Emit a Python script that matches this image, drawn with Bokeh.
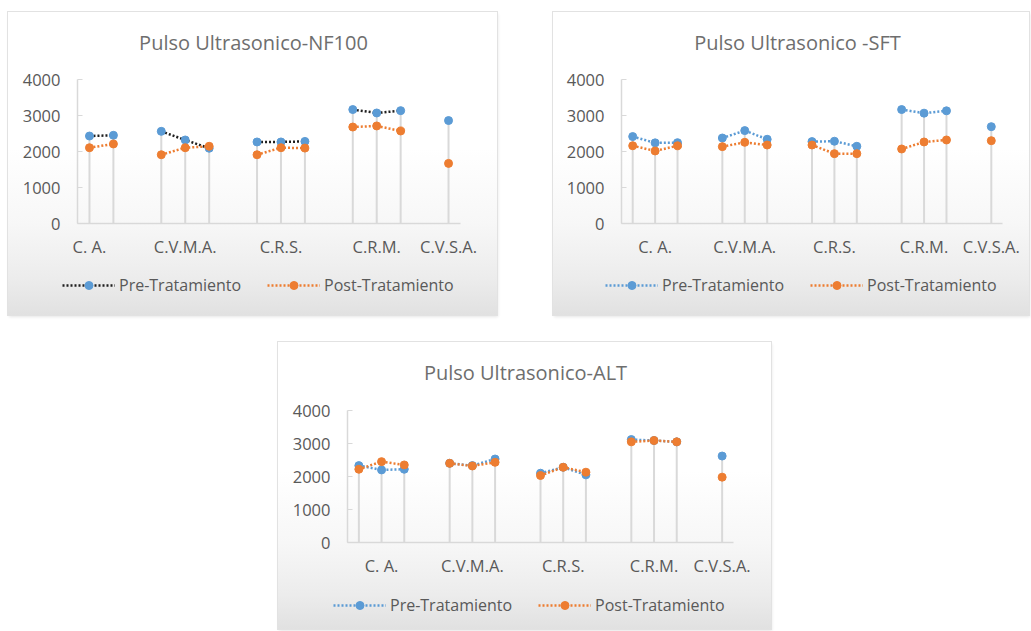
import math
from bokeh.plotting import figure
from bokeh.models import Range1d, FixedTicker, Legend, LegendItem, Spacer, Label, Plot
from bokeh.layouts import row, column
from bokeh.embed import file_html
from bokeh.resources import INLINE

# ---------------- data ----------------
categories = ["C. A.", "C.V.M.A.", "C.R.S.", "C.R.M.", "C.V.S.A."]
series_names = ["Pre-Tratamiento", "Post-Tratamiento"]
y_ticks = [0, 1000, 2000, 3000, 4000]

# Pulso Ultrasonico-NF100 (16 category slots, None = empty slot)
nf100_pre = [2430, 2450, None, 2560, 2320, 2090, None, 2265, 2265, 2280, None, 3165, 3070, 3135, None, 2860]
nf100_post = [2105, 2210, None, 1910, 2105, 2145, None, 1910, 2105, 2095, None, 2680, 2710, 2570, None, 1670]
nf100_label_slots = [0, 4, 8, 12, 15]

# Pulso Ultrasonico -SFT (17 category slots)
sft_pre = [2415, 2240, 2245, None, 2375, 2580, 2340, None, 2275, 2285, 2145, None, 3165, 3065, 3130, None, 2690]
sft_post = [2160, 2015, 2160, None, 2135, 2255, 2180, None, 2180, 1940, 1940, None, 2070, 2265, 2320, None, 2300]
sft_label_slots = [1, 5, 9, 13, 16]

# Pulso Ultrasonico-ALT (17 category slots)
alt_pre = [2330, 2200, 2220, None, 2400, 2330, 2530, None, 2100, 2280, 2050, None, 3120, 3090, 3050, None, 2620]
alt_post = [2220, 2450, 2350, None, 2400, 2320, 2430, None, 2030, 2280, 2130, None, 3050, 3090, 3050, None, 1980]
alt_label_slots = [1, 5, 9, 13, 16]

BLUE = "#5B9BD5"
ORANGE = "#ED7D31"
GREY = "#d9d9d9"
TEXT = "#595959"
FONT = "Open Sans"

BG = ("linear-gradient(180deg, #ffffff 0%, #ffffff 45%, #f7f7f7 70%, "
      "#ececec 88%, #e1e1e1 100%)")
BOX = {"background": BG,
       "box-shadow": "0 0 0 1px #e2e2e2, 1px 2px 3px rgba(0,0,0,0.10)"}

HAS_FRAME_ALIGN = "frame_align" in Plot.properties()


def clear_fills(p):
    p.background_fill_alpha = 0
    p.border_fill_alpha = 0
    p.outline_line_color = None
    if HAS_FRAME_ALIGN:
        p.frame_align = False
    p.grid.visible = False


def strip(w, h):
    s = figure(width=w, height=h, output_backend="svg", toolbar_location=None,
               x_axis_type=None, y_axis_type=None, min_border=0,
               x_range=Range1d(0, w), y_range=Range1d(0, h))
    clear_fills(s)
    return s


def make_chart(title, pre, post, label_slots, pre_line_color, w, h, title_h, leg_h,
               mb_left, mb_right, mb_top, mb_bottom, title_cx, title_cy,
               leg_x, leg_y):
    n = len(pre)

    # title strip
    tf = strip(w, title_h)
    tf.add_layout(Label(x=title_cx, y=title_h - title_cy, text=title,
                        text_align="center", text_baseline="middle",
                        text_font=FONT, text_font_size="20px",
                        text_color="#6e6e6e"))

    p = figure(width=w, height=h - title_h - leg_h, output_backend="svg",
               toolbar_location=None,
               x_range=Range1d(0, n), y_range=Range1d(0, 4000),
               min_border_left=mb_left, min_border_right=mb_right,
               min_border_top=mb_top, min_border_bottom=mb_bottom)
    clear_fills(p)

    xs = [i + 0.5 for i in range(n)]

    # drop lines
    dx, dtop = [], []
    for x, a, b in zip(xs, pre, post):
        vals = [v for v in (a, b) if v is not None]
        if vals:
            dx.append(x)
            dtop.append(max(vals))
    p.segment(x0=dx, y0=[0] * len(dx), x1=dx, y1=dtop, line_color=GREY, line_width=2)

    def series(vals, line_color, marker_color):
        yv = [float("nan") if v is None else v for v in vals]
        p.line(xs, yv, line_color=line_color, line_width=2.5, line_dash="2 2")
        mx = [x for x, v in zip(xs, vals) if v is not None]
        my = [v for v in vals if v is not None]
        p.scatter(mx, my, size=8, fill_color=marker_color, line_color=marker_color)

    series(pre, pre_line_color, BLUE)
    series(post, ORANGE, ORANGE)

    # axes
    xa = p.xaxis[0]
    xa.ticker = FixedTicker(ticks=[s + 0.5 for s in label_slots])
    xa.major_label_overrides = {s + 0.5: c for s, c in zip(label_slots, categories)}
    xa.axis_line_color = GREY
    xa.axis_line_width = 1.5
    xa.major_tick_line_color = None
    xa.minor_tick_line_color = None
    xa.major_label_text_font = FONT
    xa.major_label_text_font_size = "16.5px"
    xa.major_label_text_color = TEXT
    xa.major_label_standoff = 5

    ya = p.yaxis[0]
    ya.ticker = FixedTicker(ticks=y_ticks)
    ya.axis_line_color = GREY
    ya.axis_line_width = 1.5
    ya.major_tick_in = 5
    ya.major_tick_out = 0
    ya.major_tick_line_color = GREY
    ya.minor_tick_line_color = None
    ya.major_label_text_font = FONT
    ya.major_label_text_font_size = "16.5px"
    ya.major_label_text_color = TEXT
    ya.major_label_standoff = 17

    # legend strip (same series styles; dummy data kept outside the visible range)
    lf = strip(w, leg_h)
    r1 = lf.line([-5, -4], [-5, -5], line_color=pre_line_color, line_width=2.5, line_dash="2 2")
    r2 = lf.scatter([-5], [-5], size=8, fill_color=BLUE, line_color=BLUE)
    r3 = lf.line([-5, -4], [-5, -5], line_color=ORANGE, line_width=2.5, line_dash="2 2")
    r4 = lf.scatter([-5], [-5], size=8, fill_color=ORANGE, line_color=ORANGE)
    legend = Legend(items=[LegendItem(label=series_names[0], renderers=[r1, r2]),
                           LegendItem(label=series_names[1], renderers=[r3, r4])],
                    orientation="horizontal", location=(leg_x, leg_y),
                    glyph_width=53, glyph_height=20, label_standoff=4, spacing=26,
                    padding=0, margin=0, border_line_color=None,
                    background_fill_alpha=0,
                    label_text_font=FONT, label_text_font_size="16px",
                    label_text_color=TEXT)
    lf.add_layout(legend)
    return column(tf, p, lf, styles=BOX)


c1 = make_chart("Pulso Ultrasonico-NF100", nf100_pre, nf100_post, nf100_label_slots,
                "#1f1f1f", 489, 303, 50, 50, 69, 37, 17, 42, 245, 30, 54, 19)
c2 = make_chart("Pulso Ultrasonico -SFT", sft_pre, sft_post, sft_label_slots,
                BLUE, 476, 303, 50, 50, 68, 27, 17, 42, 244, 30, 52, 19)
c3 = make_chart("Pulso Ultrasonico-ALT", alt_pre, alt_post, alt_label_slots,
                BLUE, 493, 287, 50, 50, 69, 38, 18, 36, 247, 30, 55, 13)

layout = column(Spacer(height=12),
                row(Spacer(width=8), c1, Spacer(width=56), c2),
                Spacer(height=27),
                row(Spacer(width=278), c3))

open("out.html", "w").write(file_html(layout, INLINE))
